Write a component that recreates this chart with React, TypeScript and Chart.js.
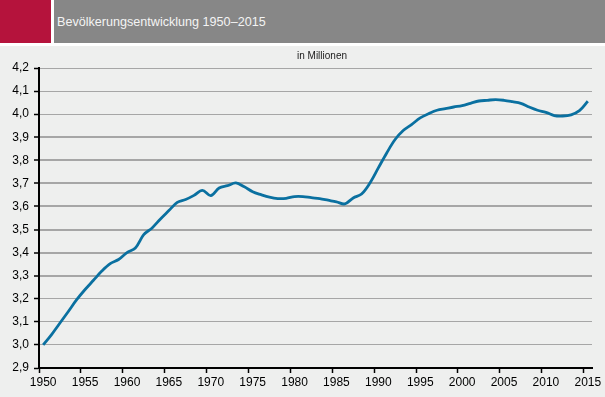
import React, { useEffect, useRef } from 'react';
import { Chart, registerables } from 'chart.js';

Chart.register(...registerables);

const titleText = 'Bevölkerungsentwicklung 1950–2015';
const unitText = 'in Millionen';

const years = [
  '1950', '1951', '1952', '1953', '1954', '1955', '1956', '1957', '1958', '1959',
  '1960', '1961', '1962', '1963', '1964', '1965', '1966', '1967', '1968', '1969',
  '1970', '1971', '1972', '1973', '1974', '1975', '1976', '1977', '1978', '1979',
  '1980', '1981', '1982', '1983', '1984', '1985', '1986', '1987', '1988', '1989',
  '1990', '1991', '1992', '1993', '1994', '1995', '1996', '1997', '1998', '1999',
  '2000', '2001', '2002', '2003', '2004', '2005', '2006', '2007', '2008', '2009',
  '2010', '2011', '2012', '2013', '2014', '2015',
];

const population = [
  3.0, 3.045, 3.095, 3.145, 3.196, 3.24, 3.28, 3.32, 3.352, 3.37,
  3.4, 3.42, 3.478, 3.507, 3.546, 3.582, 3.618, 3.63, 3.648, 3.67,
  3.647, 3.68, 3.69, 3.702, 3.685, 3.664, 3.651, 3.64, 3.634, 3.635,
  3.643, 3.643, 3.638, 3.634, 3.627, 3.62, 3.611, 3.637, 3.654, 3.702,
  3.767, 3.832, 3.89, 3.93, 3.956, 3.984, 4.002, 4.017, 4.024, 4.031,
  4.037, 4.047, 4.057, 4.06, 4.063, 4.06, 4.054, 4.047, 4.031, 4.017,
  4.008, 3.994, 3.992, 3.997, 4.015, 4.056,
];

const yTicks = [2.9, 3.0, 3.1, 3.2, 3.3, 3.4, 3.5, 3.6, 3.7, 3.8, 3.9, 4.0, 4.1, 4.2];
const thickGridTicks = [3.3, 3.4, 3.5, 3.6, 3.7, 3.8, 3.9];

const FONT = "'Liberation Sans', Arial, sans-serif";

export default function App() {
  const canvasRef = useRef<HTMLCanvasElement | null>(null);

  useEffect(() => {
    const canvas = canvasRef.current;
    if (!canvas) return;
    const chart = new Chart(canvas, {
      type: 'line',
      data: {
        labels: years,
        datasets: [
          {
            data: population,
            borderColor: '#0a70a0',
            borderWidth: 2.8,
            pointRadius: 0,
            tension: 0.35,
            fill: false,
          },
        ],
      },
      options: {
        animation: false,
        responsive: false,
        devicePixelRatio: 1,
        layout: { padding: { top: 22, right: 13, left: 0, bottom: 0 } },
        plugins: {
          legend: { display: false },
          tooltip: { enabled: false },
          title: { display: false },
        },
        scales: {
          x: {
            type: 'category',
            offset: true,
            grid: {
              offset: true,
              drawOnChartArea: false,
              drawTicks: true,
              tickLength: 5,
              tickColor: (ctx: any) => (typeof ctx.index === 'number' && ctx.index % 5 === 0 ? '#000' : 'rgba(0,0,0,0)'),
              tickWidth: 1.5,
            },
            border: { display: true, color: '#000', width: 2 },
            ticks: {
              autoSkip: false,
              maxRotation: 0,
              minRotation: 0,
              padding: 2,
              color: '#000',
              font: { family: FONT, size: 12 },
              callback: function (this: any, val: any, idx: number) {
                return idx % 5 === 0 ? years[idx] : '';
              },
            },
            afterFit: (scale: any) => {
              scale.height = 29;
            },
          },
          y: {
            min: 2.9,
            max: 4.2,
            afterBuildTicks: (scale: any) => {
              scale.ticks = yTicks.map((v) => ({ value: v }));
            },
            grid: {
              color: '#a6a6a6',
              lineWidth: (ctx: any) =>
                ctx.tick && thickGridTicks.some((t) => Math.abs(t - ctx.tick.value) < 1e-6) ? 2 : 1,
              tickColor: '#000',
              tickLength: 5,
              tickWidth: 1.5,
            },
            border: { display: true, color: '#000', width: 2 },
            ticks: {
              padding: 5,
              color: '#000',
              font: { family: FONT, size: 12 },
              callback: (v: any) => Number(v).toFixed(1).replace('.', ','),
            },
            afterFit: (scale: any) => {
              scale.width = 39;
            },
          },
        },
      },
    });
    return () => chart.destroy();
  }, []);

  return (
    <div
      style={{
        position: 'fixed',
        left: 0,
        top: 0,
        width: 605,
        height: 397,
        background: '#ffffff',
        overflow: 'hidden',
        fontFamily: FONT,
      }}
    >
      <div style={{ position: 'absolute', left: 0, top: 0, width: 51, height: 43, background: '#b5133c' }} />
      <div style={{ position: 'absolute', left: 54, top: 0, width: 551, height: 43, background: '#878787' }} />
      <div
        style={{
          position: 'absolute',
          left: 57,
          top: 15,
          fontSize: 12.6,
          lineHeight: '14px',
          color: '#f4f4f4',
          whiteSpace: 'nowrap',
        }}
      >
        {titleText}
      </div>
      <div style={{ position: 'absolute', left: 0, top: 46, width: 605, height: 351, background: '#eeefee' }} />
      <canvas
        ref={canvasRef}
        width={605}
        height={351}
        style={{ position: 'absolute', left: 0, top: 46, width: 605, height: 351 }}
      />
      <div
        style={{
          position: 'absolute',
          left: 272,
          width: 100,
          top: 50,
          textAlign: 'center',
          fontSize: 10,
          lineHeight: '12px',
          color: '#1a1a1a',
          whiteSpace: 'nowrap',
        }}
      >
        {unitText}
      </div>
    </div>
  );
}
